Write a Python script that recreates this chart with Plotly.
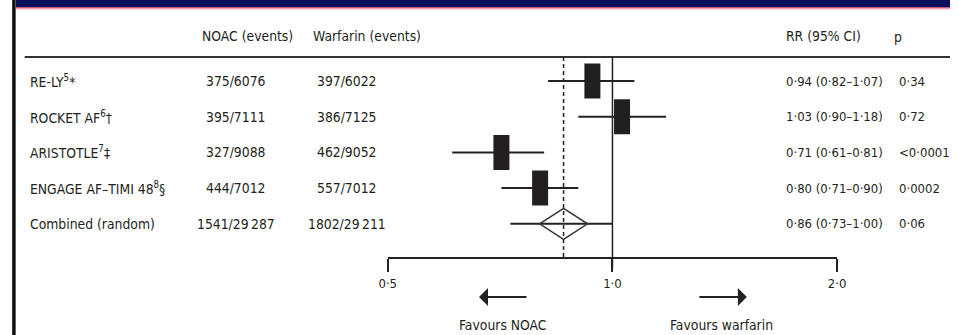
import math
import plotly.graph_objects as go

# ---------------- data ----------------
trials = ["RE-LY<sup>5</sup>*", "ROCKET AF<sup>6</sup>†", "ARISTOTLE<sup>7</sup>‡",
          "ENGAGE AF–TIMI 48<sup>8</sup>§", "Combined (random)"]
noac_events = [375, 395, 327, 444, 1541]
noac_total = [6076, 7111, 9088, 7012, 29287]
warf_events = [397, 386, 462, 557, 1802]
warf_total = [6022, 7125, 9052, 7012, 29211]
rr = [0.94, 1.03, 0.71, 0.80, 0.86]
rr_lo = [0.82, 0.90, 0.61, 0.71, 0.73]
rr_hi = [1.07, 1.18, 0.81, 0.90, 1.00]
p_values = ["0·34", "0·72", "<0·0001", "0·0002", "0·06"]
tick_vals = [0.5, 1.0, 2.0]
tick_text = ["0·5", "1·0", "2·0"]

# ---------------- layout helpers ----------------
W, H = 959, 335
FONT = "DejaVu Sans Condensed, Liberation Sans Narrow, sans-serif"
FS = 13.8
FS_R = 13
TXT = "#231f20"
LINE = "#222222"
ROW0, ROWSTEP = 81, 35.7


def px(x):
    return x / W


def py(y):
    return 1 - y / H


def num(n):
    s = str(n)
    if n >= 10000:
        s = s[:-3] + "\u2009" + s[-3:]
    return s


def dec(v):
    return f"{v:.2f}".replace(".", "·")


rows = list(range(len(trials)))
n_study = len(trials) - 1

fig = go.Figure()

# confidence intervals
ci_x, ci_y = [], []
for i in rows:
    ci_x += [rr_lo[i], rr_hi[i], None]
    ci_y += [i, i, None]
fig.add_trace(go.Scatter(x=ci_x, y=ci_y, mode="lines",
                         line=dict(color=LINE, width=2), hoverinfo="skip"))

# study point estimates (rectangles 16x25)
fig.add_trace(go.Scatter(x=rr[:n_study], y=rows[:n_study], mode="markers",
                         marker=dict(symbol="line-ns", size=25,
                                     line=dict(color="#231f20", width=16)),
                         hoverinfo="skip"))

y_top = (57 - ROW0) / ROWSTEP
y_bot = (257 - ROW0) / ROWSTEP

fig.update_layout(
    autosize=True, height=H,
    margin=dict(l=0, r=0, t=0, b=0),
    paper_bgcolor="white", plot_bgcolor="white",
    showlegend=False,
    font=dict(family=FONT, size=FS, color=TXT),
    xaxis=dict(type="log", domain=[px(386), px(844)],
               range=[math.log10(0.5), math.log10(2.0)],
               showline=True, linecolor=LINE, linewidth=2,
               ticks="outside", ticklen=13, tickwidth=1.5, tickcolor=LINE,
               tickvals=tick_vals, ticktext=tick_text,
               tickfont=dict(family=FONT, size=FS_R, color=TXT),
               showgrid=False, zeroline=False),
    yaxis=dict(domain=[py(257), py(57)], range=[y_bot, y_top],
               visible=False, showgrid=False, zeroline=False),
)

shapes = []
# top navy band and red rule
shapes.append(dict(type="rect", xref="paper", yref="paper", x0=px(7), x1=1,
                   y0=py(7.5), y1=1, fillcolor="#0a0c5c", line=dict(width=0)))
shapes.append(dict(type="line", xref="paper", yref="paper", x0=px(7), x1=1,
                   y0=py(8), y1=py(8), line=dict(color="#e8304f", width=1.2)))
shapes.append(dict(type="line", xref="paper", yref="paper", x0=px(7), x1=1,
                   y0=py(9), y1=py(9), line=dict(color="#f7a9b8", width=1)))
# left border
shapes.append(dict(type="line", xref="paper", yref="paper", x0=px(5), x1=px(5),
                   y0=0, y1=1, line=dict(color="#111111", width=3.5)))
# header rule
shapes.append(dict(type="line", xref="paper", yref="paper", x0=px(16), x1=1,
                   y0=py(57), y1=py(57), line=dict(color="#333333", width=2)))
# line of no effect
shapes.append(dict(type="line", xref="x", yref="paper", x0=1.0, x1=1.0,
                   y0=py(269), y1=py(57), line=dict(color=LINE, width=1.5)))
# pooled estimate dashed line
shapes.append(dict(type="line", xref="x", yref="paper", x0=rr[-1], x1=rr[-1],
                   y0=py(257), y1=py(57), line=dict(color=LINE, width=1.5, dash="4px,3px")))
# pooled diamond
shapes.append(dict(type="path", xref="x", yref="y", xsizemode="pixel", ysizemode="pixel",
                   xanchor=rr[-1], yanchor=rows[-1],
                   path="M-24,0 L0,15.5 L24,0 L0,-15.5 Z",
                   line=dict(color="#333333", width=1.5), fillcolor="rgba(0,0,0,0)"))
fig.update_layout(shapes=shapes)

ann = []


def text(x, y, s, anchor="left", yref="paper", size=FS):
    ann.append(dict(x=x, y=y, xref="paper", yref=yref, text=s, showarrow=False,
                    xanchor=anchor, yanchor="middle",
                    font=dict(family=FONT, size=size, color=TXT)))


# headers
text(px(195), py(36), "NOAC (events)")
text(px(308), py(36), "Warfarin (events)")
text(px(790), py(36), "RR (95% CI)")
text(px(900), py(37), "p")

for i in rows:
    text(px(19), i, trials[i], yref="y")
    text(px(231), i, f"{num(noac_events[i])}/{num(noac_total[i])}", anchor="center", yref="y")
    text(px(344), i, f"{num(warf_events[i])}/{num(warf_total[i])}", anchor="center", yref="y")
    text(px(790), i, f"{dec(rr[i])} ({dec(rr_lo[i])}–{dec(rr_hi[i])})", yref="y", size=FS_R)
    text(px(905), i, p_values[i], yref="y", size=FS_R)

# favours arrows
ann.append(dict(x=px(479), y=py(297), xref="paper", yref="paper", text="",
                showarrow=True, ax=49, ay=0, arrowhead=1, arrowsize=1.5,
                arrowwidth=2, arrowcolor=LINE))
ann.append(dict(x=px(752), y=py(297), xref="paper", yref="paper", text="",
                showarrow=True, ax=-49, ay=0, arrowhead=1, arrowsize=1.5,
                arrowwidth=2, arrowcolor=LINE))
text(px(503), py(325), "Favours NOAC", anchor="center")
text(px(726), py(325), "Favours warfarin", anchor="center")

fig.update_layout(annotations=ann)

fig.write_html(
    "out.html",
    default_width="100%",
    default_height="335px",
    config={"displayModeBar": False, "responsive": True},
    post_script=("document.body.style.margin='0';document.body.style.overflow='hidden';"
                 "window.dispatchEvent(new Event('resize'));"),
)
